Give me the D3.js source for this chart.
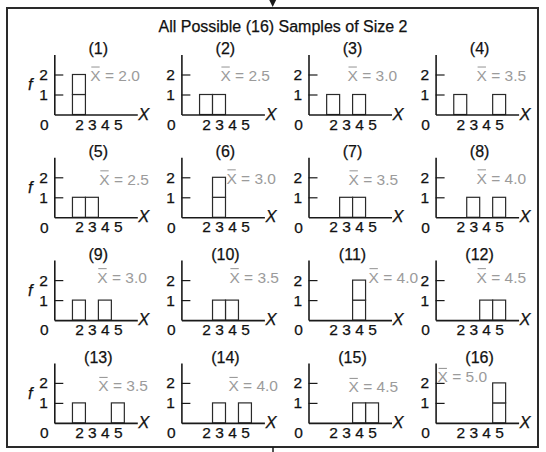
<!DOCTYPE html>
<html>
<head>
<meta charset="utf-8">
<script src="https://cdn.jsdelivr.net/npm/d3@7"></script>
<style>
  html, body { margin: 0; padding: 0; background: #fff; }
  svg { display: block; }
  text { font-family: "Liberation Sans", Arial, Helvetica, sans-serif; fill: #111; }
  .dark { stroke: #111; stroke-width: 0.25px; }
</style>
</head>
<body>
<svg id="chart" width="546" height="452"></svg>
<script>
// ---- data ----
const titleText = "All Possible (16) Samples of Size 2";
const firstDraw  = [2,2,2,2, 3,3,3,3, 4,4,4,4, 5,5,5,5];
const secondDraw = [2,3,4,5, 2,3,4,5, 2,3,4,5, 2,3,4,5];
const meanLabels = ["2.0","2.5","3.0","3.5", "2.5","3.0","3.5","4.0",
                    "3.0","3.5","4.0","4.5", "3.5","4.0","4.5","5.0"];
const xTicks = [2,3,4,5];
const yTicks = [1,2];

// ---- layout (label nudges as in the original drawing) ----
const meanDx = [36,39,39,41, 45,45,40,41, 43,48,60,41, 44,47,40,2];
const meanDy = [1,1,1,1, 2,1,2,1, -3,-3,-3,-3, 3,3,4,-6];

const svg = d3.select("#chart");

// frame
svg.append("rect").attr("x",7).attr("y",8).attr("width",531).attr("height",439)
  .attr("fill","none").attr("stroke","#2a2a2a").attr("stroke-width",2);
svg.append("path").attr("d","M269.3,0 L276.1,0 L272.7,7 Z").attr("fill","#1a1a1a");
svg.append("line").attr("x1",273).attr("x2",273).attr("y1",447).attr("y2",452)
  .attr("stroke","#1a1a1a").attr("stroke-width",1.5);

svg.append("text").attr("class","dark").attr("x",283).attr("y",32).attr("text-anchor","middle")
  .style("font-size","16px").text(titleText);

const fmt = d3.format("d");

firstDraw.forEach((a, i) => {
  const b = secondDraw[i];
  const col = i % 4, row = Math.floor(i / 4);
  const ax = 54.3 + 127.1 * col;
  const base = 114.5 + 102.8 * row;

  const x = d3.scaleLinear().domain([0.1, 6.5]).range([ax, ax + 83]);
  const y = d3.scaleLinear().domain([0, 3]).range([base, base - 60]);

  const g = svg.append("g");

  // stacked unit cells
  const cells = [];
  const counts = {};
  [a, b].forEach(v => {
    counts[v] = (counts[v] || 0) + 1;
    cells.push({v: v, level: counts[v]});
  });
  g.selectAll("rect.cell").data(cells).join("rect")
    .attr("class","cell")
    .attr("x", d => x(d.v - 0.5))
    .attr("width", d => x(d.v + 0.5) - x(d.v - 0.5))
    .attr("y", d => y(d.level))
    .attr("height", d => y(d.level - 1) - y(d.level))
    .attr("fill","#fff").attr("stroke","#2a2a2a").attr("stroke-width",1.2);

  // y axis
  const ya = g.append("g").attr("transform",`translate(${ax},0)`)
    .call(d3.axisLeft(y).tickValues(yTicks).tickFormat(fmt)
      .tickSizeInner(-9).tickSizeOuter(0).tickPadding(6.5));
  ya.select(".domain").attr("stroke","#1a1a1a").attr("stroke-width",1.6);
  ya.selectAll(".tick line").attr("stroke","#1a1a1a").attr("stroke-width",1.2);
  ya.selectAll(".tick text").attr("class","dark").style("font-size","15.5px")
    .style("font-family","Liberation Sans, Arial, sans-serif").style("fill","#111");

  // x axis
  const xa = g.append("g").attr("transform",`translate(0,${base})`)
    .call(d3.axisBottom(x).tickValues(xTicks).tickFormat(fmt).tickSize(0).tickPadding(4));
  xa.select(".domain").attr("stroke","#1a1a1a").attr("stroke-width",1.6);
  xa.selectAll(".tick text").attr("class","dark").style("font-size","15.5px")
    .style("font-family","Liberation Sans, Arial, sans-serif").style("fill","#111");

  // origin "0"
  g.append("text").attr("class","dark").attr("x", ax - 10).attr("y", base + 15.2).attr("text-anchor","middle")
    .style("font-size","15.5px").text("0");
  // X axis name
  g.append("text").attr("class","dark").attr("x", ax + 84).attr("y", base + 5)
    .style("font-size","16.5px").style("font-style","italic").text("X");
  // f label
  if (col === 0) {
    g.append("text").attr("class","dark").attr("x", ax - 24).attr("y", base - 30).attr("dy","0.35em")
      .attr("text-anchor","middle").style("font-size","16.5px").style("font-style","italic").text("f");
  }
  // panel number
  g.append("text").attr("class","dark").attr("x", ax + 44).attr("y", base - 66).attr("dy","0.35em")
    .attr("text-anchor","middle").style("font-size","16px").text(`(${i + 1})`);

  // mean label with overbar
  const lx = ax + meanDx[i];
  const ly = y(2) + meanDy[i];
  const t = g.append("text").attr("x", lx).attr("y", ly).attr("dy","0.35em")
    .style("font-size","15.5px").style("fill","#9b9b9b");
  t.append("tspan").text("X");
  t.append("tspan").text(" = " + meanLabels[i]);
  const xw = t.node().getSubStringLength(0, 1);
  const capTop = ly + 0.35 * 15.5 - 11.1;
  g.append("line").attr("x1", lx + 1).attr("x2", lx + xw - 1)
    .attr("y1", capTop - 2.8).attr("y2", capTop - 2.8)
    .attr("stroke","#9b9b9b").attr("stroke-width",1.1);
});
</script>
</body>
</html>
